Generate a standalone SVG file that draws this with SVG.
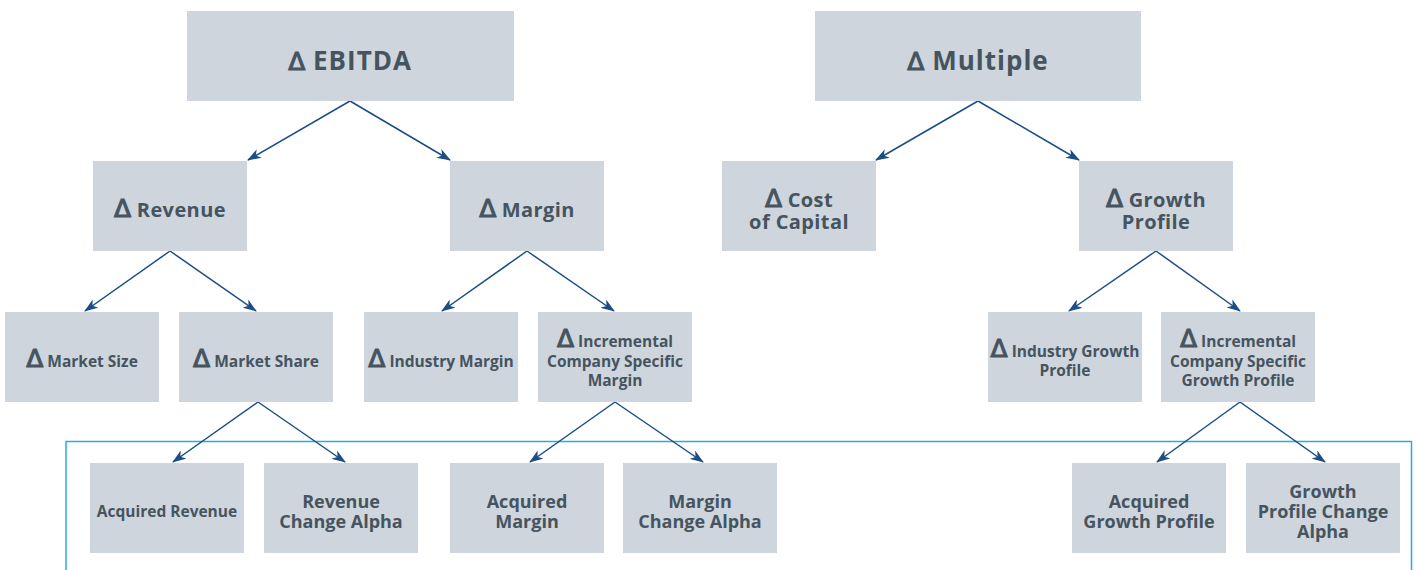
<svg xmlns="http://www.w3.org/2000/svg" width="1416" height="570" viewBox="0 0 1416 570">
<defs>
<marker id="ah" viewBox="0 0 14 10" refX="13" refY="5" markerWidth="14" markerHeight="10" markerUnits="userSpaceOnUse" orient="auto">
<path d="M0,0 L14,5 L0,10 L4,5 Z" fill="#1b4d86"/>
</marker>
<style>
.b{fill:#ced5dc}
.t{font-family:"Open Sans",Lato,"DejaVu Sans",sans-serif;font-weight:700;fill:#46545f;text-anchor:middle}
.d{font-family:"DejaVu Sans",sans-serif;font-weight:400;font-size:25px;letter-spacing:0;stroke:#46545f;stroke-width:1.1px;stroke-linejoin:round}
.c{fill:none;stroke:#1b4d86;stroke-width:1.5;marker-end:url(#ah)}
.f0{font-size:26px;letter-spacing:1px}.f1{font-size:20px;letter-spacing:0.4px}.f2{font-size:15.5px}.f3{font-size:18px}.f4{font-size:15.5px}
</style>
</defs>
<rect width="1416" height="570" fill="#fff"/>
<path d="M66,570 V441.5 H1411.5 V570" fill="none" stroke="#29abe2" stroke-width="1.5"/>
<g id="connectors">
<line class="c" x1="350" y1="101" x2="248" y2="160"/>
<line class="c" x1="350" y1="101" x2="450" y2="160"/>
<line class="c" x1="978" y1="101" x2="876" y2="160"/>
<line class="c" x1="978" y1="101" x2="1079" y2="160"/>
<line class="c" x1="170" y1="251" x2="85" y2="311"/>
<line class="c" x1="170" y1="251" x2="256" y2="311"/>
<line class="c" x1="527" y1="251" x2="442" y2="311"/>
<line class="c" x1="527" y1="251" x2="614" y2="311"/>
<line class="c" x1="1156" y1="251" x2="1069" y2="311"/>
<line class="c" x1="1156" y1="251" x2="1240" y2="311"/>
<line class="c" x1="258" y1="402" x2="173" y2="462"/>
<line class="c" x1="258" y1="402" x2="345" y2="462"/>
<line class="c" x1="615" y1="402" x2="530" y2="462"/>
<line class="c" x1="615" y1="402" x2="703" y2="462"/>
<line class="c" x1="1240" y1="402" x2="1157" y2="462"/>
<line class="c" x1="1240" y1="402" x2="1325" y2="462"/>
</g>
<g id="ebitda"><rect class="b" x="187" y="11" width="327" height="90"/><text class="t f0" x="350" y="70"><tspan class="d">Δ</tspan> EBITDA</text></g>
<g id="multiple"><rect class="b" x="815" y="11" width="326" height="90"/><text class="t f0" x="978" y="70"><tspan class="d">Δ</tspan> Multiple</text></g>
<g id="revenue"><rect class="b" x="93" y="161" width="154" height="90"/><text class="t f1" x="170" y="217"><tspan class="d">Δ</tspan> Revenue</text></g>
<g id="margin"><rect class="b" x="450" y="161" width="154" height="90"/><text class="t f1" x="527" y="217"><tspan class="d">Δ</tspan> Margin</text></g>
<g id="cost-of-capital"><rect class="b" x="722" y="161" width="154" height="90"/><text class="t f1" x="799" y="207"><tspan class="d">Δ</tspan> Cost</text><text class="t f1" x="799" y="229">of Capital</text></g>
<g id="growth-profile"><rect class="b" x="1079" y="161" width="154" height="90"/><text class="t f1" x="1156" y="207"><tspan class="d">Δ</tspan> Growth</text><text class="t f1" x="1156" y="229">Profile</text></g>
<g id="market-size"><rect class="b" x="5" y="312" width="154" height="90"/><text class="t f2" x="82" y="367"><tspan class="d">Δ</tspan> Market Size</text></g>
<g id="market-share"><rect class="b" x="179" y="312" width="154" height="90"/><text class="t f2" x="256" y="367"><tspan class="d">Δ</tspan> Market Share</text></g>
<g id="industry-margin"><rect class="b" x="364" y="312" width="154" height="90"/><text class="t f2" x="441" y="367"><tspan class="d">Δ</tspan> Industry Margin</text></g>
<g id="incremental-margin"><rect class="b" x="538" y="312" width="154" height="90"/><text class="t f2" x="615" y="347"><tspan class="d">Δ</tspan> Incremental</text><text class="t f2" x="615" y="367">Company Specific</text><text class="t f2" x="615" y="386">Margin</text></g>
<g id="industry-growth"><rect class="b" x="988" y="312" width="154" height="90"/><text class="t f2" x="1065" y="357"><tspan class="d">Δ</tspan> Industry Growth</text><text class="t f2" x="1065" y="376">Profile</text></g>
<g id="incremental-growth"><rect class="b" x="1161" y="312" width="154" height="90"/><text class="t f2" x="1238" y="347"><tspan class="d">Δ</tspan> Incremental</text><text class="t f2" x="1238" y="367">Company Specific</text><text class="t f2" x="1238" y="386">Growth Profile</text></g>
<g id="acquired-revenue"><rect class="b" x="90" y="463" width="154" height="90"/><text class="t f4" x="167" y="517">Acquired Revenue</text></g>
<g id="revenue-change-alpha"><rect class="b" x="264" y="463" width="154" height="90"/><text class="t f3" x="341" y="508">Revenue</text><text class="t f3" x="341" y="528">Change Alpha</text></g>
<g id="acquired-margin"><rect class="b" x="450" y="463" width="154" height="90"/><text class="t f3" x="527" y="508">Acquired</text><text class="t f3" x="527" y="528">Margin</text></g>
<g id="margin-change-alpha"><rect class="b" x="623" y="463" width="154" height="90"/><text class="t f3" x="700" y="508">Margin</text><text class="t f3" x="700" y="528">Change Alpha</text></g>
<g id="acquired-growth-profile"><rect class="b" x="1072" y="463" width="154" height="90"/><text class="t f3" x="1149" y="508">Acquired</text><text class="t f3" x="1149" y="528">Growth Profile</text></g>
<g id="growth-profile-change-alpha"><rect class="b" x="1246" y="463" width="154" height="90"/><text class="t f3" x="1323" y="498">Growth</text><text class="t f3" x="1323" y="518">Profile Change</text><text class="t f3" x="1323" y="538">Alpha</text></g>
</svg>
